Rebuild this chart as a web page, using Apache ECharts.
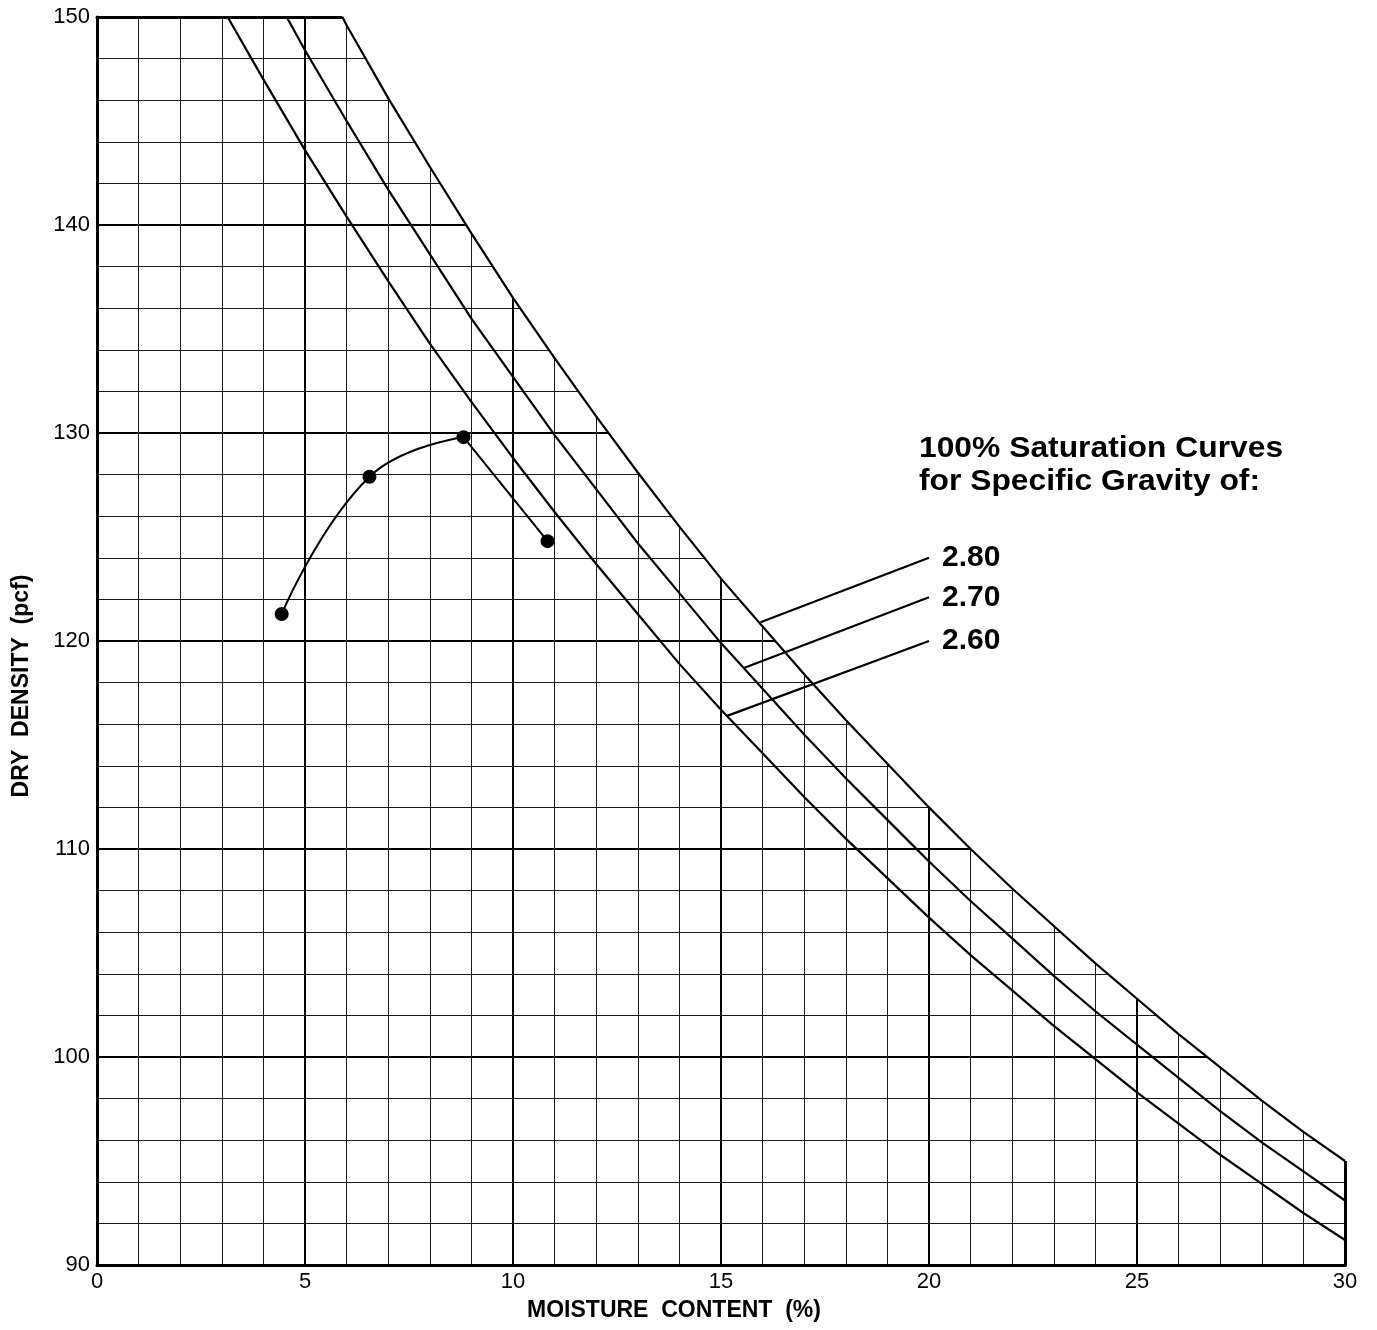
<!DOCTYPE html>
<html>
<head>
<meta charset="utf-8">
<script src="https://cdn.jsdelivr.net/npm/echarts@6/dist/echarts.min.js"></script>
<style>
  html, body { margin: 0; padding: 0; background: #fff; }
  #chart { width: 1377px; height: 1330px; }
</style>
</head>
<body>
<div id="chart"></div>
<script>
// ---- Data ----
// 100% saturation curves (moisture %, dry density pcf)
const sat280Moisture = [5.9, 6, 7, 8, 9, 10, 11, 12, 13, 14, 15, 16, 17, 18, 19, 20, 21, 22, 23, 24, 25, 26, 27, 28, 29, 30];
const sat280Density  = [150.0, 149.6, 146.1, 142.8, 139.6, 136.5, 133.6, 130.8, 128.1, 125.5, 123.0, 120.7, 118.4, 116.2, 114.1, 112.0, 110.0, 108.1, 106.3, 104.5, 102.8, 101.1, 99.5, 97.9, 96.4, 95.0];
const sat270Moisture = [4.56, 5, 6, 7, 8, 9, 10, 11, 12, 13, 14, 15, 16, 17, 18, 19, 20, 21, 22, 23, 24, 25, 26, 27, 28, 29, 30];
const sat270Density  = [150.0, 148.4, 145.0, 141.7, 138.6, 135.5, 132.7, 129.9, 127.3, 124.7, 122.3, 119.9, 117.7, 115.5, 113.4, 111.4, 109.4, 107.5, 105.7, 103.9, 102.2, 100.6, 99.0, 97.4, 95.9, 94.5, 93.1];
const sat260Moisture = [3.14, 4, 5, 6, 7, 8, 9, 10, 11, 12, 13, 14, 15, 16, 17, 18, 19, 20, 21, 22, 23, 24, 25, 26, 27, 28, 29, 30];
const sat260Density  = [150.0, 147.0, 143.6, 140.4, 137.3, 134.3, 131.5, 128.8, 126.2, 123.7, 121.3, 118.9, 116.7, 114.6, 112.5, 110.5, 108.6, 106.7, 104.9, 103.2, 101.5, 99.9, 98.3, 96.8, 95.3, 93.9, 92.5, 91.2];

// Compaction test points
const testMoisture = [4.44, 6.55, 8.81, 10.83];
const testDensity  = [121.3, 127.9, 129.8, 124.8];

// Leader lines for the specific gravity labels (curve end -> label end)
const gravityLabels = ['2.80', '2.70', '2.60'];
const leaderMoisture = [[15.95, 20.0], [15.55, 20.0], [15.15, 20.0]];
const leaderDensity  = [[120.9, 124.0], [118.7, 122.1], [116.4, 120.0]];

// Axis ticks
const xTicks = [0, 5, 10, 15, 20, 25, 30];
const yTicks = [90, 100, 110, 120, 130, 140, 150];

const annotationText = ['100% Saturation Curves', 'for Specific Gravity of:'];
const xTitle = 'MOISTURE  CONTENT  (%)';
const yTitle = 'DRY  DENSITY  (pcf)';

// ---- Build ----
const zip = (xs, ys) => xs.map((x, i) => [x, ys[i]]);
const sat280 = zip(sat280Moisture, sat280Density);
const sat270 = zip(sat270Moisture, sat270Density);
const sat260 = zip(sat260Moisture, sat260Density);
const testPts = zip(testMoisture, testDensity);

const FONT = '"Liberation Sans", Arial, Helvetica, sans-serif';
const chart = echarts.init(document.getElementById('chart'), null, { renderer: 'canvas' });

const satSeries = [sat280, sat270, sat260].map((d) => ({
  type: 'line', data: d, showSymbol: false, smooth: false,
  lineStyle: { color: '#000', width: 2.2 }, z: 5, silent: true
}));

const leaderSeries = gravityLabels.map((lab, i) => ({
  type: 'line', data: zip(leaderMoisture[i], leaderDensity[i]), showSymbol: false,
  lineStyle: { color: '#000', width: 2.2 }, z: 6, silent: true,
  endLabel: {
    show: true, formatter: lab, distance: 13,
    fontFamily: FONT, fontWeight: 'bold', fontSize: 30, color: '#000'
  }
}));

const option = {
  animation: false,
  backgroundColor: '#fff',
  grid: { left: 97, right: 32, top: 17, bottom: 65, containLabel: false },
  xAxis: [{
    type: 'value', min: xTicks[0], max: xTicks[xTicks.length - 1], interval: 5,
    position: 'bottom',
    name: xTitle, nameLocation: 'middle', nameGap: 34,
    nameTextStyle: { fontFamily: FONT, fontWeight: 'bold', fontSize: 23, color: '#000', padding: [0, 94, 0, 0] },
    axisLine: { show: true, onZero: false, lineStyle: { color: '#000', width: 3 } },
    axisTick: { show: false },
    axisLabel: { fontFamily: FONT, fontSize: 22, color: '#000', margin: 6 },
    splitLine: { show: true, lineStyle: { color: '#000', width: 2 } },
    minorTick: { show: false, splitNumber: 5 },
    minorSplitLine: { show: true, lineStyle: { color: '#1a1a1a', width: 1 } }
  }, {
    type: 'value', min: xTicks[0], max: xTicks[xTicks.length - 1], position: 'top',
    axisLine: { show: true, onZero: false, lineStyle: { color: '#000', width: 3 } },
    axisTick: { show: false }, axisLabel: { show: false }, splitLine: { show: false }
  }],
  yAxis: [{
    type: 'value', min: yTicks[0], max: yTicks[yTicks.length - 1], interval: 10,
    position: 'left',
    name: yTitle, nameLocation: 'middle', nameGap: 64, nameRotate: 90,
    nameTextStyle: { fontFamily: FONT, fontWeight: 'bold', fontSize: 23, color: '#000', padding: [0, 90, 0, 0] },
    axisLine: { show: true, onZero: false, lineStyle: { color: '#000', width: 3 } },
    axisTick: { show: false },
    axisLabel: { fontFamily: FONT, fontSize: 22, color: '#000', margin: 7 },
    splitLine: { show: true, lineStyle: { color: '#000', width: 2 } },
    minorTick: { show: false, splitNumber: 5 },
    minorSplitLine: { show: true, lineStyle: { color: '#1a1a1a', width: 1 } }
  }, {
    type: 'value', min: yTicks[0], max: yTicks[yTicks.length - 1], position: 'right',
    axisLine: { show: true, onZero: false, lineStyle: { color: '#000', width: 3 } },
    axisTick: { show: false }, axisLabel: { show: false }, splitLine: { show: false }
  }],
  series: [
    {
      // white mask that removes the grid above the 2.80 saturation curve
      type: 'custom', clip: false, silent: true, z: 1,
      data: [[15, 120]],
      renderItem: function (params, api) {
        const pts = sat280.map((p) => api.coord(p));
        const first = pts[0], last = pts[pts.length - 1];
        const tr = api.coord([xTicks[xTicks.length - 1], yTicks[yTicks.length - 1]]);
        const poly = [[first[0], first[1] - 5]].concat(pts)
          .concat([[last[0] + 5, last[1]], [tr[0] + 5, tr[1] - 5]]);
        return { type: 'polygon', shape: { points: poly }, style: { fill: '#fff' }, silent: true };
      }
    },
    ...satSeries,
    ...leaderSeries,
    {
      type: 'line', data: testPts.slice(0, 3), smooth: 0.45, showSymbol: false,
      lineStyle: { color: '#000', width: 2 }, z: 6, silent: true
    },
    {
      type: 'line', data: testPts.slice(2, 4), showSymbol: false,
      lineStyle: { color: '#000', width: 2 }, z: 6, silent: true
    },
    {
      type: 'scatter', data: testPts, symbol: 'circle', symbolSize: 14,
      itemStyle: { color: '#000', opacity: 1 }, z: 7, silent: true
    }
  ],
  graphic: [{
    type: 'text', x: 919, y: 432, scaleX: 1.06, originX: 0, z: 10,
    style: {
      text: annotationText.join('\n'), font: 'bold 30px ' + FONT,
      fill: '#000', lineHeight: 33, textAlign: 'left', textVerticalAlign: 'top'
    }
  }]
};
chart.setOption(option);
</script>
</body>
</html>
